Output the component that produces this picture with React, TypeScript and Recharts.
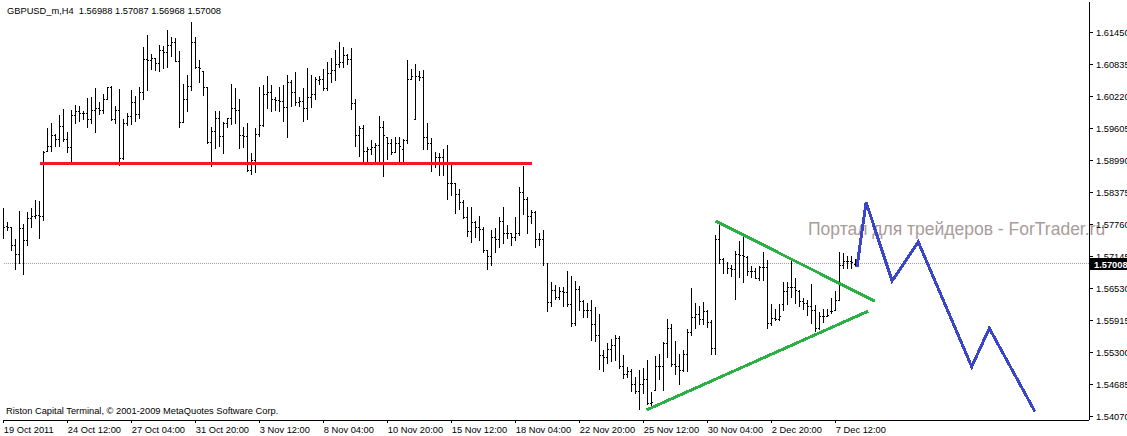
import React from 'react';
import { ComposedChart, Bar, Line, XAxis, YAxis, ReferenceLine } from 'recharts';

const W = 1127;
const H = 436;
const FONT = '"Liberation Sans", Arial, sans-serif';

// ---- GBPUSD_m H4 bars (index 0 = 19 Oct 2011) ----
const highs = [
  1.5808, 1.5781, 1.5771, 1.5747, 1.5802, 1.5777, 1.5800, 1.5808, 1.5822, 1.5820,
  1.5916, 1.5960, 1.5971, 1.5950, 1.5985, 1.5998, 1.5954, 1.5996, 1.6006, 1.6004,
  1.5993, 1.6019, 1.6021, 1.6037, 1.6010, 1.6027, 1.6039, 1.6041, 1.6004, 1.6035,
  1.5979, 1.5989, 1.6033, 1.6023, 1.6039, 1.6117, 1.6139, 1.6104, 1.6096, 1.6121,
  1.6119, 1.6150, 1.6135, 1.6133, 1.6108, 1.6046, 1.6062, 1.6164, 1.6135, 1.6091,
  1.6070, 1.6039, 1.5962, 1.5993, 1.5993, 1.5973, 1.5981, 1.6045, 1.6037, 1.6017,
  1.5962, 1.5971, 1.5912, 1.5960, 1.6039, 1.6043, 1.6060, 1.6043, 1.6021, 1.6039,
  1.6043, 1.6062, 1.6054, 1.6068, 1.6021, 1.6037, 1.6077, 1.6062, 1.6058, 1.6060,
  1.6075, 1.6087, 1.6096, 1.6110, 1.6127, 1.6117, 1.6104, 1.6114, 1.6017, 1.5964,
  1.5966, 1.5925, 1.5937, 1.5933, 1.5983, 1.5975, 1.5944, 1.5939, 1.5944, 1.5944,
  1.5939, 1.6091, 1.6075, 1.6083, 1.6071, 1.6073, 1.5970, 1.5941, 1.5914, 1.5912,
  1.5920, 1.5929, 1.5891, 1.5856, 1.5843, 1.5823, 1.5810, 1.5810, 1.5783, 1.5791,
  1.5770, 1.5727, 1.5764, 1.5768, 1.5789, 1.5810, 1.5775, 1.5760, 1.5789, 1.5848,
  1.5887, 1.5829, 1.5804, 1.5802, 1.5760, 1.5764, 1.5702, 1.5664, 1.5660, 1.5656,
  1.5656, 1.5687, 1.5677, 1.5666, 1.5658, 1.5631, 1.5624, 1.5631, 1.5616, 1.5604,
  1.5535, 1.5547, 1.5556, 1.5564, 1.5562, 1.5524, 1.5501, 1.5497, 1.5483, 1.5495,
  1.5499, 1.5516, 1.5453, 1.5522, 1.5526, 1.5549, 1.5593, 1.5585, 1.5551, 1.5526,
  1.5535, 1.5574, 1.5654, 1.5625, 1.5618, 1.5627, 1.5612, 1.5591, 1.5756, 1.5781,
  1.5712, 1.5704, 1.5698, 1.5725, 1.5743, 1.5752, 1.5714, 1.5695, 1.5691, 1.5695,
  1.5722, 1.5708, 1.5622, 1.5614, 1.5622, 1.5664, 1.5664, 1.5710, 1.5672, 1.5650,
  1.5635, 1.5631, 1.5662, 1.5620, 1.5608, 1.5614, 1.5614, 1.5635, 1.5647, 1.5722,
  1.5720, 1.5714, 1.5714, 1.57087,
];
const lows = [
  1.5750, 1.5764, 1.5727, 1.5689, 1.5702, 1.5681, 1.5737, 1.5771, 1.5787, 1.5750,
  1.5785, 1.5916, 1.5916, 1.5927, 1.5927, 1.5935, 1.5914, 1.5897, 1.5970, 1.5975,
  1.5979, 1.5962, 1.5971, 1.5954, 1.5987, 1.5989, 1.6017, 1.5977, 1.5970, 1.5889,
  1.5902, 1.5966, 1.5968, 1.5975, 1.5981, 1.6016, 1.6033, 1.6075, 1.6073, 1.6070,
  1.6077, 1.6079, 1.6100, 1.6089, 1.5962, 1.5973, 1.5993, 1.6033, 1.6077, 1.6050,
  1.6025, 1.5933, 1.5887, 1.5923, 1.5927, 1.5912, 1.5962, 1.5968, 1.5970, 1.5923,
  1.5925, 1.5879, 1.5873, 1.5877, 1.5946, 1.5964, 1.6000, 1.5993, 1.5996, 1.5993,
  1.5975, 1.5943, 1.6004, 1.6006, 1.6004, 1.5975, 1.5979, 1.6002, 1.6017, 1.6045,
  1.6033, 1.6033, 1.6050, 1.6054, 1.6079, 1.6079, 1.6083, 1.5998, 1.5927, 1.5908,
  1.5898, 1.5898, 1.5910, 1.5898, 1.5891, 1.5868, 1.5902, 1.5910, 1.5914, 1.5898,
  1.5898, 1.5933, 1.6056, 1.5979, 1.6054, 1.5921, 1.5921, 1.5879, 1.5885, 1.5870,
  1.5870, 1.5825, 1.5833, 1.5798, 1.5806, 1.5787, 1.5754, 1.5741, 1.5752, 1.5745,
  1.5722, 1.5689, 1.5698, 1.5722, 1.5733, 1.5739, 1.5750, 1.5737, 1.5745, 1.5756,
  1.5795, 1.5760, 1.5779, 1.5733, 1.5737, 1.5698, 1.5610, 1.5618, 1.5633, 1.5633,
  1.5618, 1.5618, 1.5581, 1.5583, 1.5612, 1.5597, 1.5597, 1.5554, 1.5551, 1.5497,
  1.5493, 1.5510, 1.5514, 1.5516, 1.5499, 1.5481, 1.5483, 1.5455, 1.5451, 1.5420,
  1.5451, 1.5431, 1.5428, 1.5458, 1.5478, 1.5458, 1.5520, 1.5504, 1.5489, 1.5468,
  1.5493, 1.5493, 1.5564, 1.5577, 1.5585, 1.5585, 1.5579, 1.5526, 1.5526, 1.5702,
  1.5683, 1.5683, 1.5677, 1.5633, 1.5675, 1.5664, 1.5679, 1.5675, 1.5672, 1.5668,
  1.5668, 1.5576, 1.5583, 1.5591, 1.5591, 1.5612, 1.5622, 1.5637, 1.5624, 1.5618,
  1.5614, 1.5602, 1.5587, 1.5570, 1.5574, 1.5589, 1.5599, 1.5606, 1.5612, 1.5631,
  1.5691, 1.5691, 1.5691, 1.56968,
];
const opens = [
  1.5762, 1.5772, 1.5771, 1.5737, 1.5718, 1.5768, 1.5745, 1.5787, 1.5791, 1.5793,
  1.5791, 1.5916, 1.5927, 1.5948, 1.5939, 1.5964, 1.5939, 1.5925, 1.5985, 1.5993,
  1.5989, 1.5989, 1.5979, 1.5995, 1.6000, 1.5996, 1.6017, 1.6039, 1.5979, 1.5996,
  1.5904, 1.5970, 1.5983, 1.6010, 1.5987, 1.6031, 1.6093, 1.6092, 1.6096, 1.6085,
  1.6110, 1.6106, 1.6121, 1.6127, 1.6089, 1.5973, 1.6016, 1.6041, 1.6127, 1.6079,
  1.6070, 1.6039, 1.5934, 1.5956, 1.5981, 1.5946, 1.5971, 1.5980, 1.6000, 1.5996,
  1.5948, 1.5946, 1.5881, 1.5900, 1.5950, 1.5966, 1.6027, 1.6031, 1.6016, 1.6015,
  1.6012, 1.6002, 1.6050, 1.6031, 1.6010, 1.6012, 1.6000, 1.6021, 1.6027, 1.6054,
  1.6056, 1.6037, 1.6066, 1.6073, 1.6083, 1.6087, 1.6102, 1.6093, 1.6008, 1.5948,
  1.5960, 1.5916, 1.5920, 1.5925, 1.5929, 1.5962, 1.5944, 1.5933, 1.5914, 1.5933,
  1.5920, 1.5937, 1.6056, 1.5979, 1.6060, 1.6059, 1.5943, 1.5933, 1.5894, 1.5906,
  1.5905, 1.5894, 1.5856, 1.5855, 1.5835, 1.5818, 1.5789, 1.5762, 1.5781, 1.5770,
  1.5766, 1.5727, 1.5714, 1.5752, 1.5747, 1.5783, 1.5760, 1.5759, 1.5752, 1.5760,
  1.5837, 1.5825, 1.5791, 1.5800, 1.5748, 1.5747, 1.5702, 1.5627, 1.5650, 1.5637,
  1.5647, 1.5646, 1.5622, 1.5587, 1.5652, 1.5629, 1.5612, 1.5611, 1.5585, 1.5564,
  1.5524, 1.5520, 1.5537, 1.5543, 1.5558, 1.5504, 1.5489, 1.5493, 1.5468, 1.5455,
  1.5468, 1.5478, 1.5433, 1.5458, 1.5504, 1.5503, 1.5547, 1.5577, 1.5508, 1.5504,
  1.5495, 1.5527, 1.5568, 1.5597, 1.5604, 1.5593, 1.5610, 1.5589, 1.5539, 1.5748,
  1.5710, 1.5702, 1.5691, 1.5690, 1.5718, 1.5717, 1.5713, 1.5687, 1.5686, 1.5673,
  1.5694, 1.5693, 1.5587, 1.5595, 1.5594, 1.5622, 1.5647, 1.5656, 1.5655, 1.5647,
  1.5629, 1.5625, 1.5618, 1.5612, 1.5576, 1.5599, 1.5600, 1.5610, 1.5612, 1.5631,
  1.5698, 1.5706, 1.5705, 1.56988,
];
const closes = [
  1.5771, 1.5771, 1.5737, 1.5718, 1.5768, 1.5745, 1.5787, 1.5791, 1.5793, 1.5791,
  1.5914, 1.5927, 1.5948, 1.5939, 1.5964, 1.5939, 1.5925, 1.5985, 1.5993, 1.5989,
  1.5989, 1.5979, 1.5995, 1.6000, 1.5996, 1.6017, 1.6039, 1.5979, 1.5996, 1.5904,
  1.5970, 1.5983, 1.6010, 1.5987, 1.6031, 1.6093, 1.6092, 1.6096, 1.6085, 1.6110,
  1.6106, 1.6121, 1.6127, 1.6089, 1.5973, 1.6016, 1.6041, 1.6127, 1.6079, 1.6077,
  1.6039, 1.5934, 1.5956, 1.5981, 1.5946, 1.5971, 1.5980, 1.6000, 1.5996, 1.5948,
  1.5946, 1.5881, 1.5900, 1.5950, 1.5966, 1.6027, 1.6031, 1.6016, 1.6015, 1.6012,
  1.6002, 1.6050, 1.6031, 1.6010, 1.6012, 1.6000, 1.6021, 1.6027, 1.6056, 1.6056,
  1.6037, 1.6066, 1.6073, 1.6083, 1.6087, 1.6102, 1.6093, 1.6008, 1.5948, 1.5960,
  1.5916, 1.5920, 1.5925, 1.5929, 1.5962, 1.5948, 1.5933, 1.5914, 1.5933, 1.5927,
  1.5937, 1.6056, 1.6060, 1.6060, 1.6059, 1.5943, 1.5933, 1.5894, 1.5906, 1.5905,
  1.5894, 1.5856, 1.5855, 1.5835, 1.5818, 1.5789, 1.5762, 1.5781, 1.5770, 1.5766,
  1.5727, 1.5714, 1.5752, 1.5747, 1.5783, 1.5760, 1.5759, 1.5752, 1.5760, 1.5837,
  1.5825, 1.5791, 1.5800, 1.5748, 1.5747, 1.5702, 1.5627, 1.5650, 1.5637, 1.5647,
  1.5646, 1.5622, 1.5587, 1.5652, 1.5629, 1.5612, 1.5611, 1.5585, 1.5564, 1.5524,
  1.5520, 1.5537, 1.5543, 1.5558, 1.5504, 1.5489, 1.5493, 1.5468, 1.5455, 1.5468,
  1.5478, 1.5433, 1.5435, 1.5504, 1.5503, 1.5547, 1.5577, 1.5508, 1.5504, 1.5495,
  1.5527, 1.5568, 1.5597, 1.5604, 1.5593, 1.5610, 1.5589, 1.5539, 1.5748, 1.5710,
  1.5702, 1.5691, 1.5690, 1.5718, 1.5717, 1.5714, 1.5687, 1.5686, 1.5673, 1.5694,
  1.5693, 1.5587, 1.5595, 1.5594, 1.5600, 1.5647, 1.5656, 1.5655, 1.5649, 1.5629,
  1.5625, 1.5618, 1.5612, 1.5576, 1.5599, 1.5600, 1.5602, 1.5609, 1.5631, 1.5698,
  1.5706, 1.5705, 1.5704, 1.57008,
];

// ---- axis ticks ----
const xTickIdx = [0, 16, 32, 48, 64, 80, 96, 112, 128, 144, 160, 176, 192, 208];
const xTickLabels = [
  '19 Oct 2011', '24 Oct 12:00', '27 Oct 04:00', '31 Oct 20:00', '3 Nov 12:00',
  '8 Nov 04:00', '10 Nov 20:00', '15 Nov 12:00', '18 Nov 04:00', '22 Nov 20:00',
  '25 Nov 12:00', '30 Nov 04:00', '2 Dec 20:00', '7 Dec 12:00',
];
const priceTicks = [
  1.5407, 1.54685, 1.553, 1.55915, 1.5653, 1.57145, 1.5776, 1.58375, 1.5899,
  1.59605, 1.6022, 1.60835, 1.6145,
];
const lastPrice = 1.57008;

// ---- drawn objects (bar index, price) ----
const resistanceIdx = [9.2, 132.1];
const resistancePrice = [1.5894, 1.5894];
const triUpperIdx = [178.1, 217.9];
const triUpperPrice = [1.5783, 1.5629];
const triLowerIdx = [160.8, 216.25];
const triLowerPrice = [1.542, 1.561];
const forecastIdx = [213.4, 215.7, 222.2, 228.75, 242.1, 246.5, 257.9];
const forecastPrice = [1.5694, 1.5819, 1.5668, 1.5743, 1.5503, 1.5577, 1.5417];

const X_DOMAIN: [number, number] = [-0.075, 271.425];
const Y_DOMAIN: [number, number] = [1.54007, 1.6204];

const bars = highs.map((h, i) => ({
  i,
  high: h,
  low: lows[i],
  open: opens[i],
  close: closes[i],
  range: [lows[i], h],
}));
const toPts = (xs: number[], ps: number[]) => xs.map((x, k) => ({ i: x, p: ps[k] }));
const resistanceData = toPts(resistanceIdx, resistancePrice);
const triUpperData = toPts(triUpperIdx, triUpperPrice);
const triLowerData = toPts(triLowerIdx, triLowerPrice);
const forecastData = toPts(forecastIdx, forecastPrice);

function OhlcShape(props: any) {
  const { x, y, width, height, payload } = props;
  if (x == null || y == null || !payload) return null;
  const top = Math.min(y, y + height);
  const bot = Math.max(y, y + height);
  const span = payload.high - payload.low;
  const at = (v: number) => (span > 0 ? top + ((payload.high - v) / span) * (bot - top) : top);
  const cx = Math.floor(x + width / 2);
  const yt = Math.floor(top);
  const yb = Math.floor(bot);
  const yo = Math.floor(at(payload.open));
  const yc = Math.floor(at(payload.close));
  return (
    <g>
      <rect x={cx} y={yt} width={1} height={Math.max(1, yb - yt + 1)} fill="#000" />
      <rect x={cx - 1} y={yo} width={1} height={1} fill="#000" />
      <rect x={cx + 1} y={yc} width={1} height={1} fill="#000" />
    </g>
  );
}

function XTick(props: any) {
  const { x, y, payload } = props;
  const k = xTickIdx.indexOf(payload.value);
  return (
    <text x={x + 0.5} y={y + 9.5} fontSize={9.3} fontFamily={FONT} fill="#000" textAnchor="start">
      {k >= 0 ? xTickLabels[k] : ''}
    </text>
  );
}

function PriceTag(props: any) {
  const vb = props.viewBox || {};
  if (vb.y == null) return null;
  const xr = vb.x + vb.width;
  const yy = Math.round(vb.y);
  return (
    <g>
      <rect x={xr + 1} y={yy - 6} width={40} height={12} fill="#000" />
      <text x={xr + 5} y={yy + 3.5} fill="#fff" fontSize={9.3} fontWeight="bold" fontFamily={FONT}>
        {lastPrice.toFixed(5)}
      </text>
    </g>
  );
}

export default function App() {
  return (
    <div style={{ position: 'absolute', left: 0, top: 0, width: W, height: H, background: '#fff', overflow: 'hidden' }}>
      <svg width={W} height={H} style={{ position: 'absolute', left: 0, top: 0 }}>
        <text x={808} y={234.5} fontSize={17.5} fontFamily={FONT} fill="#a89c9c">
          Портал для трейдеров - ForTrader.ru
        </text>
      </svg>
      <div style={{ position: 'absolute', left: 0, top: 0, shapeRendering: 'crispEdges' }}>
        <ComposedChart width={W} height={H} data={bars} margin={{ top: 2, right: 0, bottom: 0, left: 3 }}>
          <XAxis
            dataKey="i"
            type="number"
            domain={X_DOMAIN}
            allowDataOverflow
            ticks={xTickIdx}
            interval={0}
            height={16}
            tickSize={3}
            tickMargin={0}
            tick={<XTick />}
            axisLine={{ stroke: '#000' }}
            tickLine={{ stroke: '#000' }}
          />
          <XAxis
            xAxisId="top"
            orientation="top"
            dataKey="i"
            type="number"
            domain={X_DOMAIN}
            allowDataOverflow
            height={0}
            tick={false}
            tickLine={false}
            axisLine={{ stroke: '#000' }}
          />
          <YAxis
            orientation="right"
            type="number"
            domain={Y_DOMAIN}
            allowDataOverflow
            ticks={priceTicks}
            interval={0}
            width={38}
            tickSize={4}
            tickMargin={3}
            tickFormatter={(v: number) => v.toFixed(5)}
            tick={{ fontSize: 9.3, fontFamily: FONT, fill: '#000' }}
            axisLine={{ stroke: '#000' }}
            tickLine={{ stroke: '#000' }}
          />
          <YAxis
            yAxisId="frame"
            orientation="left"
            type="number"
            domain={[0, 1]}
            width={0}
            tick={false}
            tickLine={false}
            axisLine={{ stroke: '#000' }}
          />
          <ReferenceLine
            y={lastPrice}
            stroke="#a49cbc"
            strokeDasharray="1 1"
            label={<PriceTag />}
          />
          <Bar dataKey="range" barSize={3} shape={<OhlcShape />} isAnimationActive={false} />
          <Line data={resistanceData} dataKey="p" stroke="#f0182a" strokeWidth={3} dot={false} isAnimationActive={false} />
          <Line data={triUpperData} dataKey="p" stroke="#2bb046" strokeWidth={3} dot={false} isAnimationActive={false} />
          <Line data={triLowerData} dataKey="p" stroke="#2bb046" strokeWidth={3} dot={false} isAnimationActive={false} />
          <Line data={forecastData} dataKey="p" stroke="#3a46c8" strokeWidth={3} dot={false} isAnimationActive={false} />
        </ComposedChart>
      </div>
      <svg width={W} height={H} style={{ position: 'absolute', left: 0, top: 0, pointerEvents: 'none' }}>
        <text x={7} y={14} fontSize={9.3} fontFamily={FONT} fill="#000" style={{ whiteSpace: 'pre' }} xmlSpace="preserve">
          {'GBPUSD_m,H4  1.56988 1.57087 1.56968 1.57008'}
        </text>
        <text x={6} y={414} fontSize={9.3} fontFamily={FONT} fill="#000">
          Riston Capital Terminal, © 2001-2009 MetaQuotes Software Corp.
        </text>
      </svg>
    </div>
  );
}
